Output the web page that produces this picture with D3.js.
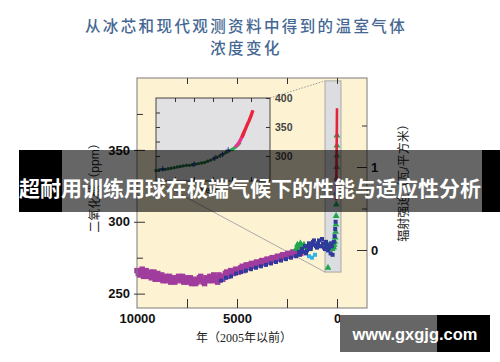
<!DOCTYPE html>
<html><head><meta charset="utf-8">
<script src="https://cdn.jsdelivr.net/npm/d3@7"></script>
<style>body{margin:0;background:#fff}svg{display:block}</style>
</head><body><svg id="c" width="500" height="362"></svg>
<script>
// ---------- data ----------
const titleLines = ["从冰芯和现代观测资料中得到的温室气体", "浓度变化"];
const bannerText = "超耐用训练用球在极端气候下的性能与适应性分析";
const watermarkText = "www.gxgjg.com";
const yTitle = "二氧化碳（ppm）";
const yRightTitle = "辐射强迫（瓦/平方米）";
const xTitle = "年（2005年以前）";
const insetXTitle = "Year";

const xMajorTicks = [7500, 5000, 2500, 0];
const xLabelTicks = [10000, 5000, 0];
const yLabelTicks = [250, 300, 350];
const yMinorTicks = [275, 325, 375];
const rLabelTicks = [0, 1];
const rMinorTicks = [0.5, 1.5];
const insetYLabels = [300, 350, 400];
const insetYMinor = [275, 300, 325, 350, 375];
const insetXTicks = [1800, 1850, 1900, 1950, 2000];

// ice-core CO2 (years before 2005, ppm)
const purpleAge = [10000,9870,9740,9610,9480,9350,9220,9090,8960,8830,8700,8570,8440,8310,8180,8050,7920,7790,7660,7530,7400,7270,7140,7010,6880,6750,6620,6490,6360,6230,6100,5970,5840,5710,5580,5450,5320,5190,5060,4930,4800,4670,4540,4410,4280,4150,4020,3890,3760,3630,3500,3370,3240,3110,2980,2850,2720,2590,2460,2330,2200,2070,1940,1810];
const purpleCO2 = [266,263,267,264,262,265,263,260,264,261,259,262,260,258,261,259,262,259,258,261,259,257,260,258,261,259,257,260,262,259,261,258,262,260,264,262,266,264,267,265,268,266,270,268,271,269,272,270,273,271,274,272,275,273,276,274,277,275,278,276,279,277,280,278];
const purple2Age = [9935,9805,9675,9545,9415,9285,9155,9025,8895,8765,8635,8505,8375,8245,8115,7985,7855,7725,7595,7465,7335,7205,7075,6945,6815,6685,6555,6425,6295,6165,6035,5905,5775,5645,5515,5385,5255,5125,4995,4865,4735,4605,4475,4345,4215,4085,3955,3825,3695,3565,3435,3305,3175,3045,2915,2785,2655,2525,2395,2265,2135,2005,1875];
const purple2CO2 = [264,266,262,266,263,261,265,262,260,263,261,259,262,260,258,261,260,262,259,258,261,259,257,259,262,258,261,259,260,263,260,263,261,262,265,264,265,266,265,267,269,268,269,270,270,271,271,272,272,273,273,274,274,275,275,276,276,277,277,278,278,279,279];
const blueAge = [5800,5550,5300,5050,4800,4550,4300,4050,3800,3550,3300,3050,2800,2550,2300,2050,1900,1750,1600,1500,1400,1300,1200,1100,1000,900,800,700,600,500,400,320,260,220,160,120,90,70];
const blueCO2 = [259,261,262,264,265,266,267,268,269,270,271,272,273,274,275,276,279,281,283,280,285,282,286,284,282,287,283,285,281,284,282,278,283,277,286,290,295,300];
const blue2Age = [1850,1700,1550,1450,1350,1250,1150,1050,950,850,750,650,550,450,350,280];
const blue2CO2 = [277,279,278,283,281,284,287,283,285,283,288,282,286,280,283,285];
const greenAge = [2050,1980,1900,1830,1750,1650,1550,1450,1350,600,520,450,380,300,240,200,170,140,110,90,70,55,45,35,28,22,16,10,5,2];
const greenCO2 = [281,284,282,285,283,284,282,283,281,283,285,268,284,282,281,283,282,284,286,289,293,298,304,312,320,330,338,346,353,360];
const cyanAge = [1400,1250,1100];
const cyanCO2 = [276,275,277];
// Mauna Loa record (years before 2005, ppm)
const redAge = [47,45,40,35,30,25,20,15,10,5,0];
const redCO2 = [315,317,320,325,331,339,346,354,361,369,379];
// zoomed region (years before 2005 / ppm)
const zoomAge = [600, -200];
const zoomCO2 = [265, 398];

// inset (AD years, ppm)
const insetDGYear = [1750,1758,1766,1774,1782,1790,1798,1806,1814,1822,1830,1838,1846,1854,1862,1870,1878,1886,1894,1902,1910,1918,1926,1934,1942,1950];
const insetDGCO2 = [275,276,277,277,278,279,280,281,282,283,284,284,285,286,287,288,289,291,293,295,298,300,303,306,309,311];
const insetNavyYear = [1768,1850,1905,1925,1940];
const insetNavyCO2 = [278,286,297,303,310];
const insetGreenYear = [1948,1952,1956,1960,1964,1968,1972];
const insetGreenCO2 = [310,312,314,316,318,321,324];
const insetMagYear = [1958,1962,1966,1970,1974,1978,1982];
const insetMagCO2 = [315,318,321,325,330,335,341];
const insetRedYear = [1976,1980,1985,1990,1995,2000,2005];
const insetRedCO2 = [332,339,346,354,361,369,379];

// ---------- drawing ----------
const svg = d3.select("#c");
const P = {l:137, r:367, t:78, b:308};
const x = d3.scaleLinear().domain([10000, -1500]).range([P.l, P.r]);
const y = d3.scaleLinear().domain([240, 400]).range([P.b, P.t]);
const yR = d3.scaleLinear().domain([0, 1]).range([250, 167]);

const sansCJK = "'Liberation Sans','Noto Sans CJK SC',sans-serif";

// title
svg.selectAll("text.title").data(titleLines).join("text")
  .attr("x", 246).attr("y", (d,i)=>25 + i*22)
  .attr("text-anchor","middle").attr("dominant-baseline","central")
  .attr("font-family","'Noto Sans CJK SC',sans-serif").attr("font-size",15.5)
  .attr("letter-spacing","2.4px").attr("font-weight",500)
  .attr("fill","#456892").text(d=>d);

// plot background
svg.append("rect").attr("x",P.l).attr("y",P.t).attr("width",P.r-P.l).attr("height",P.b-P.t)
  .attr("fill","#fdf3d2");

// inset geometry
const I = {l:156, r:270, t:98, b:181};
const ix = d3.scaleLinear().domain([1750, 2050]).range([I.l, I.r]);
const iy = d3.scaleLinear().domain([257, 400]).range([I.b, I.t]);

// zoom box + connectors
const zx0 = x(zoomAge[0]), zx1 = x(zoomAge[1]), zy0 = y(zoomCO2[1]), zy1 = y(zoomCO2[0]);
svg.append("line").attr("x1",I.r).attr("y1",I.t).attr("x2",zx0).attr("y2",zy0)
  .attr("stroke","#999").attr("stroke-width",1).attr("stroke-dasharray","1.5,1.5");
svg.append("line").attr("x1",I.l).attr("y1",I.b).attr("x2",zx0).attr("y2",zy1)
  .attr("stroke","#aaa").attr("stroke-width",1);
svg.append("rect").attr("x",zx0).attr("y",zy0).attr("width",zx1-zx0).attr("height",zy1-zy0)
  .attr("fill","#dcdde0").attr("stroke","#999").attr("stroke-width",0.8);

// data
const sq = d3.symbol().type(d3.symbolSquare).size(30)();
const sqS = d3.symbol().type(d3.symbolSquare).size(16)();
const tri = d3.symbol().type(d3.symbolTriangle).size(20)();
const pts = (age, co2, shape, color) => svg.append("g").selectAll("path").data(d3.zip(age, co2)).join("path")
  .attr("d", shape).attr("transform", d=>`translate(${x(d[0])},${y(d[1])})`).attr("fill", color);
pts(purpleAge, purpleCO2, sq, "#a03c9e");
pts(purple2Age, purple2CO2, sq, "#a03c9e");
pts(cyanAge, cyanCO2, sqS, "#2fb3e8");
pts(greenAge, greenCO2, tri, "#1ea64a");
pts(blueAge, blueCO2, sqS, "#2f3a9c");
pts(blue2Age, blue2CO2, sqS, "#2f3a9c");
svg.append("path").datum(d3.zip(redAge,redCO2))
  .attr("d",d3.line().x(d=>x(d[0])).y(d=>y(d[1])))
  .attr("fill","none").attr("stroke","#e3243b").attr("stroke-width",2.6);

// frame
svg.append("rect").attr("x",P.l).attr("y",P.t).attr("width",P.r-P.l).attr("height",P.b-P.t)
  .attr("fill","none").attr("stroke","#7a7a7a").attr("stroke-width",1);

// axes
const axFont = g => g.selectAll("text").attr("font-family","'Liberation Sans',Arial,sans-serif")
  .attr("font-size",13).attr("font-weight","bold").attr("fill","#111");
const axStroke = g => { g.select(".domain").remove(); g.selectAll("line").attr("stroke","#333"); };

let gl = svg.append("g").attr("transform",`translate(${P.l},0)`)
  .call(d3.axisLeft(y).tickValues(yLabelTicks).tickSize(3).tickPadding(4));
gl.selectAll(".tick line").attr("x1",8);
axStroke(gl); axFont(gl);
let glm = svg.append("g").attr("transform",`translate(${P.l},0)`)
  .call(d3.axisLeft(y).tickValues(yMinorTicks).tickSize(-6).tickFormat(""));
axStroke(glm);

let gb = svg.append("g").attr("transform",`translate(0,${P.b})`)
  .call(d3.axisBottom(x).tickValues(xMajorTicks).tickSize(-9).tickFormat(""));
axStroke(gb);
let gbl = svg.append("g").attr("transform",`translate(0,${P.b})`)
  .call(d3.axisBottom(x).tickValues(xLabelTicks).tickSize(0).tickPadding(6).tickFormat(d3.format("d")));
axStroke(gbl); axFont(gbl);
let gt = svg.append("g").attr("transform",`translate(0,${P.t})`)
  .call(d3.axisTop(x).tickValues(xMajorTicks).tickSize(-6).tickFormat(""));
axStroke(gt);

let gr = svg.append("g").attr("transform",`translate(${P.r},0)`)
  .call(d3.axisRight(yR).tickValues(rLabelTicks).tickSize(-10).tickPadding(4).tickFormat(d3.format("d")));
axStroke(gr); axFont(gr);
let grm = svg.append("g").attr("transform",`translate(${P.r},0)`)
  .call(d3.axisRight(yR).tickValues(rMinorTicks).tickSize(-5).tickFormat(""));
axStroke(grm);

// inset
svg.append("rect").attr("x",I.l).attr("y",I.t).attr("width",I.r-I.l).attr("height",I.b-I.t)
  .attr("fill","#e1e1e3").attr("stroke","#444").attr("stroke-width",1);
const ig = svg.append("g");
ig.selectAll("circle.dg").data(d3.zip(insetDGYear,insetDGCO2)).join("circle")
  .attr("cx",d=>ix(d[0])).attr("cy",d=>iy(d[1])).attr("r",1.7).attr("fill","#1d6b3b");
ig.selectAll("g.nv").data(d3.zip(insetNavyYear,insetNavyCO2)).join("g").each(function(d){
  const g = d3.select(this), cx = ix(d[0]), cy = iy(d[1]);
  g.append("line").attr("x1",cx).attr("x2",cx).attr("y1",iy(d[1]-5)).attr("y2",iy(d[1]+5)).attr("stroke","#2f3a9c").attr("stroke-width",1);
  g.append("line").attr("x1",cx-2.5).attr("x2",cx+2.5).attr("y1",cy).attr("y2",cy).attr("stroke","#2f3a9c").attr("stroke-width",1.4);
});
const iline = d3.line().x(d=>ix(d[0])).y(d=>iy(d[1]));
ig.append("path").datum(d3.zip(insetGreenYear,insetGreenCO2))
  .attr("d",iline).attr("fill","none").attr("stroke","#22b24b").attr("stroke-width",3.2);
ig.append("path").datum(d3.zip(insetMagYear,insetMagCO2))
  .attr("d",iline).attr("fill","none").attr("stroke","#e5368e").attr("stroke-width",3.4);
ig.append("path").datum(d3.zip(insetRedYear,insetRedCO2))
  .attr("d",iline).attr("fill","none").attr("stroke","#e8253c").attr("stroke-width",3.4);

let it = svg.append("g").attr("transform",`translate(0,${I.t})`)
  .call(d3.axisTop(ix).tickValues(insetXTicks).tickSize(-4).tickFormat(""));
axStroke(it);
let ib = svg.append("g").attr("transform",`translate(0,${I.b})`)
  .call(d3.axisBottom(ix).tickValues(insetXTicks).tickSize(-4).tickFormat(""));
axStroke(ib);
let il = svg.append("g").attr("transform",`translate(${I.l},0)`)
  .call(d3.axisLeft(iy).tickValues(insetYMinor).tickSize(-4).tickFormat(""));
axStroke(il);
let ir = svg.append("g").attr("transform",`translate(${I.r},0)`)
  .call(d3.axisRight(iy).tickValues(insetYLabels).tickSize(-4).tickPadding(5).tickFormat(d3.format("d")));
axStroke(ir);
ir.selectAll("text").attr("font-family","'Liberation Sans',Arial,sans-serif").attr("font-size",10.5)
  .attr("font-weight","bold").attr("fill","#444");
svg.append("text").attr("x",(I.l+I.r)/2-4).attr("y",I.b+12).attr("text-anchor","middle")
  .attr("font-family","'Liberation Sans',Arial,sans-serif").attr("font-size",9).attr("font-weight","bold")
  .attr("fill","#333").text(insetXTitle);

// axis titles
svg.append("text").attr("transform","translate(95,185) rotate(-90)")
  .attr("text-anchor","middle").attr("dominant-baseline","central")
  .attr("font-family",sansCJK).attr("font-size",12).attr("fill","#222").text(yTitle);
svg.append("text").attr("transform","translate(404,180) rotate(-90)")
  .attr("text-anchor","middle").attr("dominant-baseline","central")
  .attr("font-family",sansCJK).attr("font-size",12).attr("fill","#222").text(yRightTitle);
svg.append("text").attr("x",244).attr("y",338)
  .attr("text-anchor","middle").attr("dominant-baseline","central")
  .attr("font-family","'Liberation Serif','Noto Sans CJK SC',serif").attr("font-size",12).attr("fill","#222").text(xTitle);

// banner overlay
svg.append("rect").attr("x",19).attr("y",150).attr("width",43).attr("height",62).attr("fill","#000");
svg.append("rect").attr("x",482).attr("y",150).attr("width",18).attr("height",62).attr("fill","#000");
svg.append("rect").attr("x",62).attr("y",150).attr("width",420).attr("height",62).attr("fill","#000").attr("fill-opacity",0.6);
svg.append("text").attr("x",250).attr("y",187).attr("text-anchor","middle").attr("dominant-baseline","central")
  .attr("font-family","'Noto Sans CJK SC',sans-serif").attr("font-size",21).attr("font-weight","bold")
  .attr("fill","#fff").text(bannerText);

// watermark
svg.append("rect").attr("x",340).attr("y",315).attr("width",97).attr("height",37).attr("fill","#666");
svg.append("rect").attr("x",437).attr("y",315).attr("width",53).attr("height",37).attr("fill","#000");
svg.append("text").attr("x",415).attr("y",334).attr("text-anchor","middle").attr("dominant-baseline","central")
  .attr("font-family","'Liberation Sans',Arial,sans-serif").attr("font-size",16.5).attr("font-weight","bold")
  .attr("fill","#fff").text(watermarkText);
</script></body></html>
